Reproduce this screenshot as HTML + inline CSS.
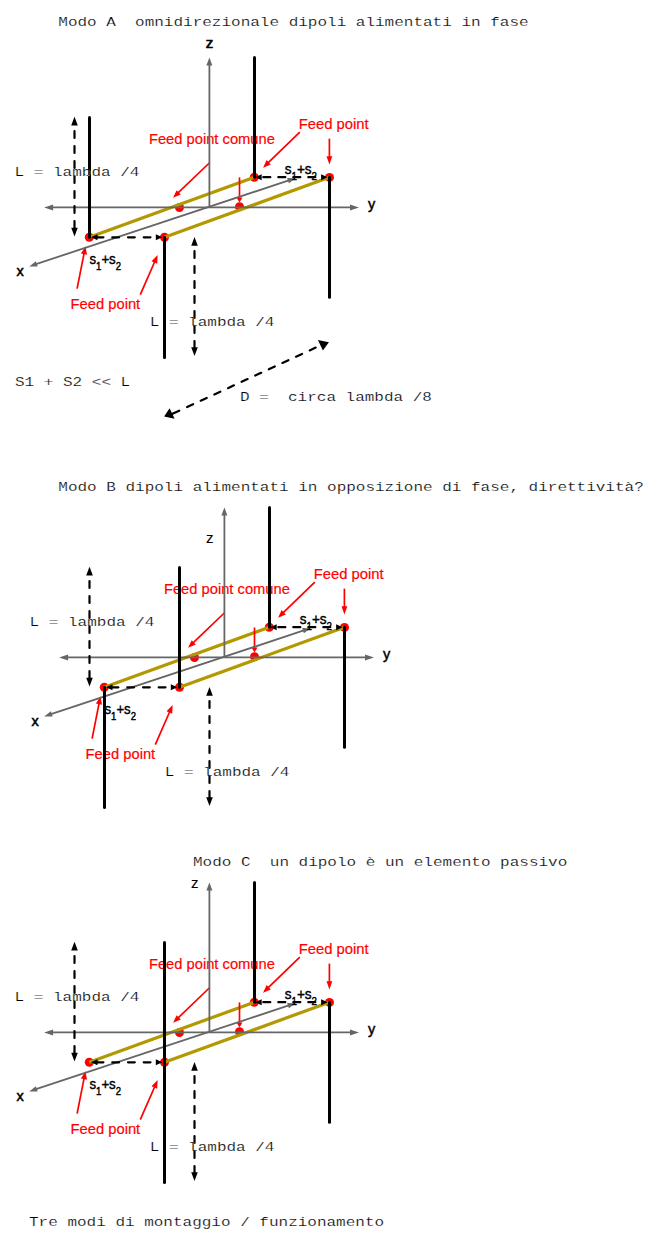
<!DOCTYPE html>
<html><head><meta charset="utf-8"><style>
html,body{margin:0;padding:0;background:#fff;width:657px;height:1244px;overflow:hidden}
svg{position:absolute;left:0;top:0;display:block}
</style></head><body>
<svg width="657" height="1244" viewBox="0 0 657 1244">
<text transform="translate(58.3,26.20) scale(1,0.82)" x="0" y="0" font-family="Liberation Mono" font-size="16" fill="#000" stroke="#fff" stroke-width="0.25" xml:space="preserve">Modo A  omnidirezionale dipoli alimentati in fase</text>
<text x="148.9" y="143.9" font-family="Liberation Sans" font-size="15.5" fill="#ff0000" font-weight="normal" textLength="126" lengthAdjust="spacingAndGlyphs" stroke="#ff0000" stroke-width="0.2" xml:space="preserve">Feed point comune</text>
<text x="298.7" y="128.6" font-family="Liberation Sans" font-size="15.5" fill="#ff0000" font-weight="normal" textLength="70" lengthAdjust="spacingAndGlyphs" stroke="#ff0000" stroke-width="0.2" xml:space="preserve">Feed point</text>
<text x="70.6" y="308.5" font-family="Liberation Sans" font-size="15.5" fill="#ff0000" font-weight="normal" textLength="69.6" lengthAdjust="spacingAndGlyphs" stroke="#ff0000" stroke-width="0.2" xml:space="preserve">Feed point</text>
<circle cx="89.3" cy="237.3" r="4.5" fill="#ff0000"/>
<circle cx="164.5" cy="237.3" r="4.5" fill="#ff0000"/>
<circle cx="254.3" cy="177.2" r="4.5" fill="#ff0000"/>
<circle cx="329.5" cy="177.4" r="4.5" fill="#ff0000"/>
<circle cx="179.5" cy="207.5" r="4.5" fill="#ff0000"/>
<circle cx="239.5" cy="206.8" r="4.5" fill="#ff0000"/>
<line x1="89.30" y1="237.30" x2="254.30" y2="177.20" stroke="#b39800" stroke-width="3.2" stroke-linecap="butt"/>
<line x1="164.50" y1="237.30" x2="329.50" y2="177.20" stroke="#b39800" stroke-width="3.2" stroke-linecap="butt"/>
<line x1="299.80" y1="132.10" x2="266.46" y2="164.44" stroke="#ff0000" stroke-width="1.7" stroke-linecap="butt"/><polygon points="263.10,167.70 266.61,160.12 270.79,164.42" fill="#ff0000"/>
<line x1="329.40" y1="138.60" x2="329.40" y2="159.48" stroke="#ff0000" stroke-width="1.7" stroke-linecap="butt"/><polygon points="329.40,164.40 326.50,156.20 332.30,156.20" fill="#ff0000"/>
<line x1="77.10" y1="288.60" x2="84.57" y2="250.91" stroke="#ff0000" stroke-width="1.7" stroke-linecap="butt"/><polygon points="85.50,246.20 86.99,254.65 80.90,253.45" fill="#ff0000"/>
<line x1="140.30" y1="294.60" x2="155.67" y2="259.50" stroke="#ff0000" stroke-width="1.7" stroke-linecap="butt"/><polygon points="157.60,255.10 157.23,263.67 151.55,261.18" fill="#ff0000"/>
<line x1="209.80" y1="162.50" x2="176.48" y2="194.46" stroke="#ff0000" stroke-width="1.7" stroke-linecap="butt"/><polygon points="173.10,197.70 176.65,190.14 180.81,194.47" fill="#ff0000"/>
<line x1="239.50" y1="177.40" x2="239.50" y2="199.60" stroke="#ff0000" stroke-width="1.7" stroke-linecap="butt"/><polygon points="239.50,202.60 236.50,197.60 242.50,197.60" fill="#ff0000"/>
<line x1="209.40" y1="207.00" x2="209.40" y2="62.20" stroke="#666666" stroke-width="1.8" stroke-linecap="butt"/><polygon points="209.40,57.40 212.40,65.40 206.40,65.40" fill="#666666"/>
<line x1="49.50" y1="207.40" x2="353.60" y2="207.40" stroke="#666666" stroke-width="1.9" stroke-linecap="butt"/><polygon points="359.00,207.40 350.00,210.40 350.00,204.40" fill="#666666"/><polygon points="44.10,207.40 53.10,204.40 53.10,210.40" fill="#666666"/>
<line x1="33.76" y1="264.89" x2="291.04" y2="179.71" stroke="#666666" stroke-width="1.8" stroke-linecap="butt"/><polygon points="295.60,178.20 288.89,183.37 287.13,178.06" fill="#666666"/><polygon points="29.20,266.40 35.91,261.23 37.67,266.54" fill="#666666"/>
<line x1="89.5" y1="117.4" x2="89.5" y2="237.3" stroke="#000" stroke-width="3.0" stroke-linecap="round"/>
<line x1="164.5" y1="237.3" x2="164.5" y2="357.4" stroke="#000" stroke-width="3.0" stroke-linecap="round"/>
<line x1="254.5" y1="57.4" x2="254.5" y2="177.2" stroke="#000" stroke-width="3.0" stroke-linecap="round"/>
<line x1="329.5" y1="177.2" x2="329.5" y2="297.2" stroke="#000" stroke-width="3.0" stroke-linecap="round"/>
<path d="M96.60,237.30L103.40,237.30M112.30,237.30L119.10,237.30M128.00,237.30L134.80,237.30M143.70,237.30L150.50,237.30" stroke="#000" stroke-width="2.2" stroke-linecap="round" fill="none"/><polygon points="162.30,237.30 155.80,240.30 155.80,234.30" fill="#000"/><polygon points="91.00,237.30 97.50,234.30 97.50,240.30" fill="#000"/>
<path d="M263.30,177.20L270.30,177.20M278.30,177.20L285.30,177.20M293.30,177.20L300.30,177.20M308.30,177.20L315.30,177.20M323.30,177.20L323.70,177.20" stroke="#000" stroke-width="2.2" stroke-linecap="round" fill="none"/><polygon points="327.60,177.20 321.10,180.20 321.10,174.20" fill="#000"/><polygon points="255.20,177.20 261.70,174.20 261.70,180.20" fill="#000"/>
<path d="M74.50,131.00L74.50,138.00M74.50,146.00L74.50,153.00M74.50,161.00L74.50,168.00M74.50,176.00L74.50,183.00M74.50,191.00L74.50,198.00M74.50,206.00L74.50,213.00M74.50,221.00L74.50,228.00" stroke="#000" stroke-width="2.2" stroke-linecap="round" fill="none"/><polygon points="74.50,236.40 71.20,227.80 77.80,227.80" fill="#000"/><polygon points="74.50,116.80 77.80,125.40 71.20,125.40" fill="#000"/>
<path d="M194.50,251.00L194.50,258.00M194.50,266.00L194.50,273.00M194.50,281.00L194.50,288.00M194.50,296.00L194.50,303.00M194.50,311.00L194.50,318.00M194.50,326.00L194.50,333.00M194.50,341.00L194.50,348.00" stroke="#000" stroke-width="2.2" stroke-linecap="round" fill="none"/><polygon points="194.50,355.90 191.20,347.30 197.80,347.30" fill="#000"/><polygon points="194.50,237.10 197.80,245.70 191.20,245.70" fill="#000"/>
<text x="284.7" y="173.9" font-family="Liberation Sans" font-size="15" fill="#000" stroke="#000" stroke-width="0.45" textLength="32.3" lengthAdjust="spacingAndGlyphs">s<tspan font-size="10.8" dy="6">1</tspan><tspan dy="-6">+s</tspan><tspan font-size="10.8" dy="6">2</tspan></text>
<text x="89.5" y="263.9" font-family="Liberation Sans" font-size="15" fill="#000" stroke="#000" stroke-width="0.45" textLength="31.5" lengthAdjust="spacingAndGlyphs">s<tspan font-size="10.8" dy="6">1</tspan><tspan dy="-6">+s</tspan><tspan font-size="10.8" dy="6">2</tspan></text>
<text x="205.8" y="47.8" font-family="Liberation Sans" font-size="15" fill="#000" stroke="#000" stroke-width="0.7">z</text>
<text x="368.1" y="209.3" font-family="Liberation Sans" font-size="14.5" fill="#000" stroke="#000" stroke-width="0.45">y</text>
<text x="16.6" y="276" font-family="Liberation Sans" font-size="14.5" fill="#000" stroke="#000" stroke-width="0.5">x</text>
<text transform="translate(14.6,176.20) scale(1,0.82)" x="0" y="0" font-family="Liberation Mono" font-size="16" fill="#000" stroke="#fff" stroke-width="0.25" xml:space="preserve">L = lambda /4</text>
<text transform="translate(149.7,325.90) scale(1,0.82)" x="0" y="0" font-family="Liberation Mono" font-size="16" fill="#000" stroke="#fff" stroke-width="0.25" xml:space="preserve">L = lambda /4</text>
<text transform="translate(15,385.50) scale(1,0.82)" x="0" y="0" font-family="Liberation Mono" font-size="16" fill="#000" stroke="#fff" stroke-width="0.25" xml:space="preserve">S1 + S2 &lt;&lt; L</text>
<text transform="translate(240,400.90) scale(1,0.82)" x="0" y="0" font-family="Liberation Mono" font-size="16" fill="#000" stroke="#fff" stroke-width="0.25" xml:space="preserve">D =  circa lambda /8</text>
<polygon points="164.1,416.5 169.6,408.3 174.6,418.8" fill="#000"/>
<polygon points="328.9,342.3 317.9,340 322.9,350.5" fill="#000"/>
<path d="M169.68,415.06L179.21,410.65M187.11,407.00L193.10,404.24M200.72,400.71L206.71,397.94M214.34,394.42L220.33,391.65M227.96,388.13L233.95,385.36M241.57,381.84L247.56,379.07M255.19,375.55L261.18,372.78M268.81,369.25L274.80,366.49M282.42,362.96L288.41,360.19M296.04,356.67L302.03,353.90M309.66,350.38L315.65,347.61" stroke="#000" stroke-width="2.2" stroke-linecap="round" fill="none"/>
<text transform="translate(58.3,491.20) scale(1,0.82)" x="0" y="0" font-family="Liberation Mono" font-size="16" fill="#000" stroke="#fff" stroke-width="0.25" xml:space="preserve">Modo B dipoli alimentati in opposizione di fase, direttività?</text>
<text x="163.9" y="593.9" font-family="Liberation Sans" font-size="15.5" fill="#ff0000" font-weight="normal" textLength="126" lengthAdjust="spacingAndGlyphs" stroke="#ff0000" stroke-width="0.2" xml:space="preserve">Feed point comune</text>
<text x="313.7" y="578.6" font-family="Liberation Sans" font-size="15.5" fill="#ff0000" font-weight="normal" textLength="70" lengthAdjust="spacingAndGlyphs" stroke="#ff0000" stroke-width="0.2" xml:space="preserve">Feed point</text>
<text x="85.6" y="758.5" font-family="Liberation Sans" font-size="15.5" fill="#ff0000" font-weight="normal" textLength="69.6" lengthAdjust="spacingAndGlyphs" stroke="#ff0000" stroke-width="0.2" xml:space="preserve">Feed point</text>
<circle cx="104.3" cy="687.3" r="4.5" fill="#ff0000"/>
<circle cx="179.5" cy="687.3" r="4.5" fill="#ff0000"/>
<circle cx="269.3" cy="627.2" r="4.5" fill="#ff0000"/>
<circle cx="344.5" cy="627.4" r="4.5" fill="#ff0000"/>
<circle cx="194.5" cy="657.5" r="4.5" fill="#ff0000"/>
<circle cx="254.5" cy="656.8" r="4.5" fill="#ff0000"/>
<line x1="104.30" y1="687.30" x2="269.30" y2="627.20" stroke="#b39800" stroke-width="3.2" stroke-linecap="butt"/>
<line x1="179.50" y1="687.30" x2="344.50" y2="627.20" stroke="#b39800" stroke-width="3.2" stroke-linecap="butt"/>
<line x1="314.80" y1="582.10" x2="281.46" y2="614.44" stroke="#ff0000" stroke-width="1.7" stroke-linecap="butt"/><polygon points="278.10,617.70 281.61,610.12 285.79,614.42" fill="#ff0000"/>
<line x1="344.40" y1="588.60" x2="344.40" y2="609.48" stroke="#ff0000" stroke-width="1.7" stroke-linecap="butt"/><polygon points="344.40,614.40 341.50,606.20 347.30,606.20" fill="#ff0000"/>
<line x1="92.10" y1="738.60" x2="99.57" y2="700.91" stroke="#ff0000" stroke-width="1.7" stroke-linecap="butt"/><polygon points="100.50,696.20 101.99,704.65 95.90,703.45" fill="#ff0000"/>
<line x1="155.30" y1="744.60" x2="170.67" y2="709.50" stroke="#ff0000" stroke-width="1.7" stroke-linecap="butt"/><polygon points="172.60,705.10 172.23,713.67 166.55,711.18" fill="#ff0000"/>
<line x1="224.80" y1="612.50" x2="191.48" y2="644.46" stroke="#ff0000" stroke-width="1.7" stroke-linecap="butt"/><polygon points="188.10,647.70 191.65,640.14 195.81,644.47" fill="#ff0000"/>
<line x1="254.50" y1="627.40" x2="254.50" y2="649.60" stroke="#ff0000" stroke-width="1.7" stroke-linecap="butt"/><polygon points="254.50,652.60 251.50,647.60 257.50,647.60" fill="#ff0000"/>
<line x1="224.40" y1="657.00" x2="224.40" y2="512.20" stroke="#666666" stroke-width="1.8" stroke-linecap="butt"/><polygon points="224.40,507.40 227.40,515.40 221.40,515.40" fill="#666666"/>
<line x1="64.50" y1="657.40" x2="368.60" y2="657.40" stroke="#666666" stroke-width="1.9" stroke-linecap="butt"/><polygon points="374.00,657.40 365.00,660.40 365.00,654.40" fill="#666666"/><polygon points="59.10,657.40 68.10,654.40 68.10,660.40" fill="#666666"/>
<line x1="48.76" y1="714.89" x2="306.04" y2="629.71" stroke="#666666" stroke-width="1.8" stroke-linecap="butt"/><polygon points="310.60,628.20 303.89,633.37 302.13,628.06" fill="#666666"/><polygon points="44.20,716.40 50.91,711.23 52.67,716.54" fill="#666666"/>
<line x1="104.5" y1="687.3" x2="104.5" y2="807.4" stroke="#000" stroke-width="3.0" stroke-linecap="round"/>
<line x1="179.5" y1="567.4" x2="179.5" y2="687.3" stroke="#000" stroke-width="3.0" stroke-linecap="round"/>
<line x1="269.5" y1="507.4" x2="269.5" y2="627.2" stroke="#000" stroke-width="3.0" stroke-linecap="round"/>
<line x1="344.5" y1="627.2" x2="344.5" y2="747.2" stroke="#000" stroke-width="3.0" stroke-linecap="round"/>
<path d="M111.60,687.30L118.40,687.30M127.30,687.30L134.10,687.30M143.00,687.30L149.80,687.30M158.70,687.30L165.50,687.30" stroke="#000" stroke-width="2.2" stroke-linecap="round" fill="none"/><polygon points="177.30,687.30 170.80,690.30 170.80,684.30" fill="#000"/><polygon points="106.00,687.30 112.50,684.30 112.50,690.30" fill="#000"/>
<path d="M278.30,627.20L285.30,627.20M293.30,627.20L300.30,627.20M308.30,627.20L315.30,627.20M323.30,627.20L330.30,627.20M338.30,627.20L338.70,627.20" stroke="#000" stroke-width="2.2" stroke-linecap="round" fill="none"/><polygon points="342.60,627.20 336.10,630.20 336.10,624.20" fill="#000"/><polygon points="270.20,627.20 276.70,624.20 276.70,630.20" fill="#000"/>
<path d="M89.50,581.00L89.50,588.00M89.50,596.00L89.50,603.00M89.50,611.00L89.50,618.00M89.50,626.00L89.50,633.00M89.50,641.00L89.50,648.00M89.50,656.00L89.50,663.00M89.50,671.00L89.50,678.00" stroke="#000" stroke-width="2.2" stroke-linecap="round" fill="none"/><polygon points="89.50,686.40 86.20,677.80 92.80,677.80" fill="#000"/><polygon points="89.50,566.80 92.80,575.40 86.20,575.40" fill="#000"/>
<path d="M209.50,701.00L209.50,708.00M209.50,716.00L209.50,723.00M209.50,731.00L209.50,738.00M209.50,746.00L209.50,753.00M209.50,761.00L209.50,768.00M209.50,776.00L209.50,783.00M209.50,791.00L209.50,798.00" stroke="#000" stroke-width="2.2" stroke-linecap="round" fill="none"/><polygon points="209.50,805.90 206.20,797.30 212.80,797.30" fill="#000"/><polygon points="209.50,687.10 212.80,695.70 206.20,695.70" fill="#000"/>
<text x="299.7" y="623.9" font-family="Liberation Sans" font-size="15" fill="#000" stroke="#000" stroke-width="0.45" textLength="32.3" lengthAdjust="spacingAndGlyphs">s<tspan font-size="10.8" dy="6">1</tspan><tspan dy="-6">+s</tspan><tspan font-size="10.8" dy="6">2</tspan></text>
<text x="104.5" y="713.9" font-family="Liberation Sans" font-size="15" fill="#000" stroke="#000" stroke-width="0.45" textLength="31.5" lengthAdjust="spacingAndGlyphs">s<tspan font-size="10.8" dy="6">1</tspan><tspan dy="-6">+s</tspan><tspan font-size="10.8" dy="6">2</tspan></text>
<text x="383.1" y="659.3" font-family="Liberation Sans" font-size="14.5" fill="#000" stroke="#000" stroke-width="0.45">y</text>
<text x="31.6" y="726" font-family="Liberation Sans" font-size="14.5" fill="#000" stroke="#000" stroke-width="0.5">x</text>
<text transform="translate(29.6,626.20) scale(1,0.82)" x="0" y="0" font-family="Liberation Mono" font-size="16" fill="#000" stroke="#fff" stroke-width="0.25" xml:space="preserve">L = lambda /4</text>
<text transform="translate(164.7,775.90) scale(1,0.82)" x="0" y="0" font-family="Liberation Mono" font-size="16" fill="#000" stroke="#fff" stroke-width="0.25" xml:space="preserve">L = lambda /4</text>
<text x="206.1" y="543" font-family="Liberation Sans" font-size="15" fill="#000" stroke="#000" stroke-width="0.1">z</text>
<text transform="translate(193,866.20) scale(1,0.82)" x="0" y="0" font-family="Liberation Mono" font-size="16" fill="#000" stroke="#fff" stroke-width="0.25" xml:space="preserve">Modo C  un dipolo è un elemento passivo</text>
<text x="148.9" y="968.9" font-family="Liberation Sans" font-size="15.5" fill="#ff0000" font-weight="normal" textLength="126" lengthAdjust="spacingAndGlyphs" stroke="#ff0000" stroke-width="0.2" xml:space="preserve">Feed point comune</text>
<text x="298.7" y="953.6" font-family="Liberation Sans" font-size="15.5" fill="#ff0000" font-weight="normal" textLength="70" lengthAdjust="spacingAndGlyphs" stroke="#ff0000" stroke-width="0.2" xml:space="preserve">Feed point</text>
<text x="70.6" y="1133.5" font-family="Liberation Sans" font-size="15.5" fill="#ff0000" font-weight="normal" textLength="69.6" lengthAdjust="spacingAndGlyphs" stroke="#ff0000" stroke-width="0.2" xml:space="preserve">Feed point</text>
<circle cx="89.3" cy="1062.3" r="4.5" fill="#ff0000"/>
<circle cx="164.5" cy="1062.3" r="4.5" fill="#ff0000"/>
<circle cx="254.3" cy="1002.2" r="4.5" fill="#ff0000"/>
<circle cx="329.5" cy="1002.4" r="4.5" fill="#ff0000"/>
<circle cx="179.5" cy="1032.5" r="4.5" fill="#ff0000"/>
<circle cx="239.5" cy="1031.8" r="4.5" fill="#ff0000"/>
<line x1="89.30" y1="1062.30" x2="254.30" y2="1002.20" stroke="#b39800" stroke-width="3.2" stroke-linecap="butt"/>
<line x1="164.50" y1="1062.30" x2="329.50" y2="1002.20" stroke="#b39800" stroke-width="3.2" stroke-linecap="butt"/>
<line x1="299.80" y1="957.10" x2="266.46" y2="989.44" stroke="#ff0000" stroke-width="1.7" stroke-linecap="butt"/><polygon points="263.10,992.70 266.61,985.12 270.79,989.42" fill="#ff0000"/>
<line x1="329.40" y1="963.60" x2="329.40" y2="984.48" stroke="#ff0000" stroke-width="1.7" stroke-linecap="butt"/><polygon points="329.40,989.40 326.50,981.20 332.30,981.20" fill="#ff0000"/>
<line x1="77.10" y1="1113.60" x2="84.57" y2="1075.91" stroke="#ff0000" stroke-width="1.7" stroke-linecap="butt"/><polygon points="85.50,1071.20 86.99,1079.65 80.90,1078.45" fill="#ff0000"/>
<line x1="140.30" y1="1119.60" x2="155.67" y2="1084.50" stroke="#ff0000" stroke-width="1.7" stroke-linecap="butt"/><polygon points="157.60,1080.10 157.23,1088.67 151.55,1086.18" fill="#ff0000"/>
<line x1="209.80" y1="987.50" x2="176.48" y2="1019.46" stroke="#ff0000" stroke-width="1.7" stroke-linecap="butt"/><polygon points="173.10,1022.70 176.65,1015.14 180.81,1019.47" fill="#ff0000"/>
<line x1="239.50" y1="1002.40" x2="239.50" y2="1024.60" stroke="#ff0000" stroke-width="1.7" stroke-linecap="butt"/><polygon points="239.50,1027.60 236.50,1022.60 242.50,1022.60" fill="#ff0000"/>
<line x1="209.40" y1="1032.00" x2="209.40" y2="887.20" stroke="#666666" stroke-width="1.8" stroke-linecap="butt"/><polygon points="209.40,882.40 212.40,890.40 206.40,890.40" fill="#666666"/>
<line x1="49.50" y1="1032.40" x2="353.60" y2="1032.40" stroke="#666666" stroke-width="1.9" stroke-linecap="butt"/><polygon points="359.00,1032.40 350.00,1035.40 350.00,1029.40" fill="#666666"/><polygon points="44.10,1032.40 53.10,1029.40 53.10,1035.40" fill="#666666"/>
<line x1="33.76" y1="1089.89" x2="291.04" y2="1004.71" stroke="#666666" stroke-width="1.8" stroke-linecap="butt"/><polygon points="295.60,1003.20 288.89,1008.37 287.13,1003.06" fill="#666666"/><polygon points="29.20,1091.40 35.91,1086.23 37.67,1091.54" fill="#666666"/>
<line x1="164.5" y1="942.4" x2="164.5" y2="1182.4" stroke="#000" stroke-width="3.0" stroke-linecap="round"/>
<line x1="254.5" y1="882.4" x2="254.5" y2="1002.2" stroke="#000" stroke-width="3.0" stroke-linecap="round"/>
<line x1="329.5" y1="1002.2" x2="329.5" y2="1122.2" stroke="#000" stroke-width="3.0" stroke-linecap="round"/>
<path d="M96.60,1062.30L103.40,1062.30M112.30,1062.30L119.10,1062.30M128.00,1062.30L134.80,1062.30M143.70,1062.30L150.50,1062.30" stroke="#000" stroke-width="2.2" stroke-linecap="round" fill="none"/><polygon points="162.30,1062.30 155.80,1065.30 155.80,1059.30" fill="#000"/><polygon points="91.00,1062.30 97.50,1059.30 97.50,1065.30" fill="#000"/>
<path d="M263.30,1002.20L270.30,1002.20M278.30,1002.20L285.30,1002.20M293.30,1002.20L300.30,1002.20M308.30,1002.20L315.30,1002.20M323.30,1002.20L323.70,1002.20" stroke="#000" stroke-width="2.2" stroke-linecap="round" fill="none"/><polygon points="327.60,1002.20 321.10,1005.20 321.10,999.20" fill="#000"/><polygon points="255.20,1002.20 261.70,999.20 261.70,1005.20" fill="#000"/>
<path d="M74.50,956.00L74.50,963.00M74.50,971.00L74.50,978.00M74.50,986.00L74.50,993.00M74.50,1001.00L74.50,1008.00M74.50,1016.00L74.50,1023.00M74.50,1031.00L74.50,1038.00M74.50,1046.00L74.50,1053.00" stroke="#000" stroke-width="2.2" stroke-linecap="round" fill="none"/><polygon points="74.50,1061.40 71.20,1052.80 77.80,1052.80" fill="#000"/><polygon points="74.50,941.80 77.80,950.40 71.20,950.40" fill="#000"/>
<path d="M194.50,1076.00L194.50,1083.00M194.50,1091.00L194.50,1098.00M194.50,1106.00L194.50,1113.00M194.50,1121.00L194.50,1128.00M194.50,1136.00L194.50,1143.00M194.50,1151.00L194.50,1158.00M194.50,1166.00L194.50,1173.00" stroke="#000" stroke-width="2.2" stroke-linecap="round" fill="none"/><polygon points="194.50,1180.90 191.20,1172.30 197.80,1172.30" fill="#000"/><polygon points="194.50,1062.10 197.80,1070.70 191.20,1070.70" fill="#000"/>
<text x="284.7" y="998.9" font-family="Liberation Sans" font-size="15" fill="#000" stroke="#000" stroke-width="0.45" textLength="32.3" lengthAdjust="spacingAndGlyphs">s<tspan font-size="10.8" dy="6">1</tspan><tspan dy="-6">+s</tspan><tspan font-size="10.8" dy="6">2</tspan></text>
<text x="89.5" y="1088.9" font-family="Liberation Sans" font-size="15" fill="#000" stroke="#000" stroke-width="0.45" textLength="31.5" lengthAdjust="spacingAndGlyphs">s<tspan font-size="10.8" dy="6">1</tspan><tspan dy="-6">+s</tspan><tspan font-size="10.8" dy="6">2</tspan></text>
<text x="368.1" y="1034.3" font-family="Liberation Sans" font-size="14.5" fill="#000" stroke="#000" stroke-width="0.45">y</text>
<text x="16.6" y="1101" font-family="Liberation Sans" font-size="14.5" fill="#000" stroke="#000" stroke-width="0.5">x</text>
<text transform="translate(14.6,1001.20) scale(1,0.82)" x="0" y="0" font-family="Liberation Mono" font-size="16" fill="#000" stroke="#fff" stroke-width="0.25" xml:space="preserve">L = lambda /4</text>
<text transform="translate(149.7,1150.90) scale(1,0.82)" x="0" y="0" font-family="Liberation Mono" font-size="16" fill="#000" stroke="#fff" stroke-width="0.25" xml:space="preserve">L = lambda /4</text>
<text x="191.1" y="888" font-family="Liberation Sans" font-size="15" fill="#000" stroke="#000" stroke-width="0.1">z</text>
<text transform="translate(29,1226.20) scale(1,0.82)" x="0" y="0" font-family="Liberation Mono" font-size="16" fill="#000" stroke="#fff" stroke-width="0.25" xml:space="preserve">Tre modi di montaggio / funzionamento</text>
</svg>
</body></html>
